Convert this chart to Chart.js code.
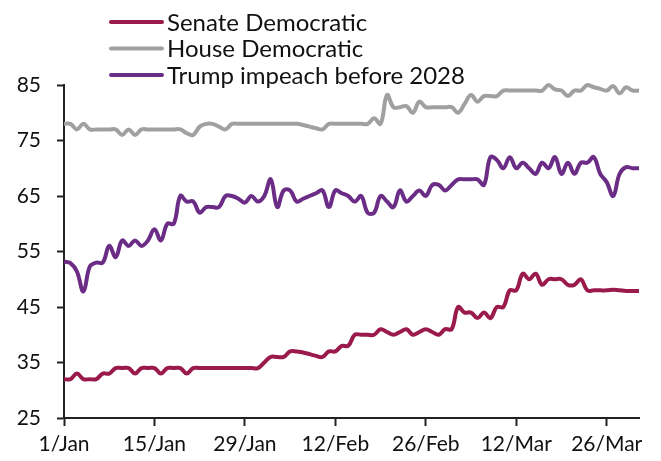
<!DOCTYPE html>
<html>
<head>
<meta charset="utf-8">
<script src="https://cdn.jsdelivr.net/npm/chart.js@4/dist/chart.umd.min.js"></script>
<style>
    body { margin: 0; background: #fff; }
</style>
</head>
<body>
<canvas id="grafico" width="661" height="461"></canvas>
<script>
// days counted from 1 Jan, one value per day up to 31 Mar
var tickLabels = ['1/Jan', '15/Jan', '29/Jan', '12/Feb', '26/Feb', '12/Mar', '26/Mar'];
var tickDays = [0, 14, 28, 42, 56, 70, 84];
var yTicks = [25, 35, 45, 55, 65, 75, 85];

var senate = [32, 32, 33, 32, 32, 32, 33, 33, 34, 34,
              34, 33, 34, 34, 34, 33, 34, 34, 34, 33,
              34, 34, 34, 34, 34, 34, 34, 34, 34, 34,
              34, 35, 36, 36, 36, 37, 37, 36.8, 36.5, 36.2,
              36, 37, 37, 38, 38, 40, 40, 40, 40, 41,
              40.5, 40, 40.5, 41, 40, 40.5, 41, 40.5, 40, 41,
              41, 45, 44, 44, 43, 44, 43, 45, 45, 48,
              48, 51, 50, 51, 49, 50, 50, 50, 49, 49,
              50, 48, 48, 48, 48, 48.1, 48, 47.9, 47.9, 47.9];

var house = [78, 78, 77, 78, 77, 77, 77, 77, 77, 76,
             77, 76, 77, 77, 77, 77, 77, 77, 77, 76.3,
             76, 77.5, 78, 78, 77.5, 77, 78, 78, 78, 78,
             78, 78, 78, 78, 78, 78, 78, 77.8, 77.5, 77.2,
             77, 78, 78, 78, 78, 78, 78, 78, 79, 78,
             83.2, 81, 81, 81.2, 80, 82, 81, 81, 81, 81,
             81, 80, 81.6, 83.2, 82, 83, 83, 83, 84, 84,
             84, 84, 84, 84, 84, 85, 84.2, 84, 83, 84,
             84, 85, 84.6, 84.3, 84, 84.8, 83.5, 84.6, 84, 84];

var impeach = [53.2, 52.9, 51.4, 47.8, 52.3, 53, 53, 56, 54, 57,
               56, 57, 56, 57, 59, 57, 60, 60, 65, 64,
               64, 62, 63, 63, 63, 65, 65, 64.5, 63.8, 65,
               64, 65, 68, 63, 66, 66, 64, 64.5, 65, 65.5,
               66, 63, 66, 65.5, 65, 64, 65, 62, 62, 65,
               64, 63, 66, 64, 65, 66, 65, 67, 67, 66,
               67, 68, 68, 68, 68, 67, 72, 71.5, 70, 72,
               70, 71, 70, 69, 71, 70, 72, 69, 71, 69,
               71, 71, 72, 69, 67.5, 65, 69, 70.2, 70, 70];

var nomi = ['Senate Democratic', 'House Democratic', 'Trump impeach before 2028'];
var colori = ['#991a4b', '#a0a0a0', '#6b2c86'];

function punti(valori) {
    return valori.map(function (v, i) { return { x: i, y: v }; });
}

// legenda a colonna, in alto a sinistra
var legendaPlugin = {
    id: 'legendaColonna',
    afterDraw: function (chart) {
        var ctx = chart.ctx;
        ctx.save();
        ctx.font = '24px Lato';
        ctx.textBaseline = 'middle';
        ctx.lineCap = 'round';
        chart.data.datasets.forEach(function (ds, i) {
            var y = 22 + i * 26.5;
            ctx.strokeStyle = ds.borderColor;
            ctx.lineWidth = 4;
            ctx.beginPath();
            ctx.moveTo(111, y);
            ctx.lineTo(162, y);
            ctx.stroke();
            ctx.fillStyle = '#111';
            ctx.fillText(ds.label, 167, y + 1);
        });
        ctx.restore();
    }
};

var serie = [senate, house, impeach];
var datasets = serie.map(function (valori, i) {
    return {
        label: nomi[i],
        data: punti(valori),
        borderColor: colori[i],
        borderWidth: 4,
        pointRadius: 0,
        tension: 0.4,
        fill: false,
        clip: 10
    };
});

var ctx = document.getElementById('grafico');
var newChart = new Chart(ctx, {
    type: 'line',
    data: { datasets: datasets },
    plugins: [legendaPlugin],
    options: {
        responsive: false,
        animation: false,
        layout: { padding: { top: 85, left: 0, right: 22, bottom: 0 } },
        plugins: { legend: { display: false }, tooltip: { enabled: false } },
        scales: {
            x: {
                type: 'linear',
                min: 0,
                max: 89,
                afterBuildTicks: function (scale) {
                    scale.ticks = tickDays.map(function (d) { return { value: d }; });
                },
                afterFit: function (scale) { scale.height = 43; },
                ticks: {
                    autoSkip: false,
                    maxRotation: 0,
                    padding: 6,
                    color: '#111',
                    font: { family: 'Lato', size: 21 },
                    callback: function (v) {
                        var k = tickDays.indexOf(v);
                        return k >= 0 ? tickLabels[k] : '';
                    }
                },
                grid: { drawOnChartArea: false, tickLength: 8, tickColor: '#222', tickWidth: 2 },
                border: { color: '#222', width: 2 }
            },
            y: {
                min: 25,
                max: 85,
                afterBuildTicks: function (scale) {
                    scale.ticks = yTicks.map(function (v) { return { value: v }; });
                },
                afterFit: function (scale) { scale.width = 64; },
                ticks: {
                    padding: 16,
                    color: '#111',
                    font: { family: 'Lato', size: 21 }
                },
                grid: { drawOnChartArea: false, tickLength: 7, tickColor: '#222', tickWidth: 2 },
                border: { color: '#222', width: 2 }
            }
        }
    }
});
</script>
</body>
</html>
